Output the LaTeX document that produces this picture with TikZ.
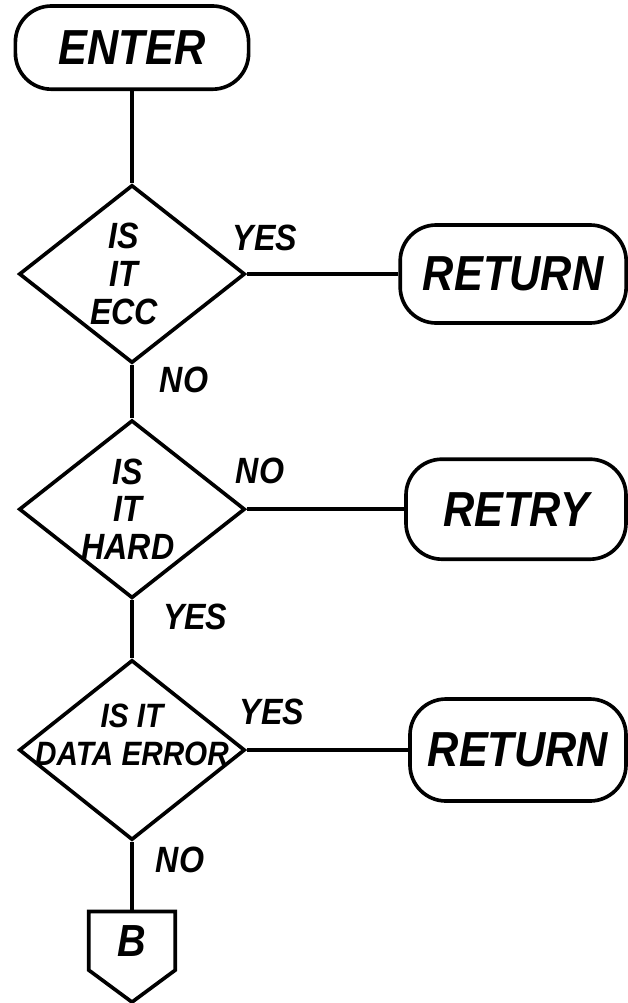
\documentclass[tikz,border=0pt]{standalone}
\usepackage{fontspec}
\setmainfont{Liberation Sans}[FakeStretch=0.88]
\usetikzlibrary{shapes.geometric}

\begin{document}
\begin{tikzpicture}[
    terminal/.style={rectangle, draw, line width=2.6pt, rounded corners=0.9cm, minimum width=5.65cm, minimum height=2.45cm, font=\fontsize{35}{38}\selectfont\bfseries\itshape},
    decision/.style={diamond, draw, line width=2.6pt, minimum width=5.65cm, minimum height=4.45cm, inner sep=0pt},
    dtext/.style={font=\fontsize{26}{27}\selectfont\bfseries\itshape, align=center, inner sep=0pt},
    flow/.style={line width=2.6pt},
    lbl/.style={font=\fontsize{26}{28}\selectfont\bfseries\itshape},
    offpage/.style={rectangle, minimum width=2.15cm, minimum height=1.45cm, inner sep=0pt, font=\fontsize{32}{34}\selectfont\bfseries\itshape}
]
    \useasboundingbox (0,0) rectangle (15.7,-25.075);

    % Start
    \node[terminal, minimum width=5.83cm, minimum height=2.08cm] (enter) at (3.3,-1.19) {ENTER};

    % Decisions
    \node[decision] (d1) at (3.3,-6.85) {};
    \node[dtext] (q1) at ([xshift=-0.2cm]d1.center) {IS\\IT\\ECC};
    \node[decision] (d2) at (3.3,-12.73) {};
    \node[dtext] (q2) at ([xshift=-0.1cm]d2.center) {IS\\IT\\HARD};
    \node[decision, minimum height=4.5cm] (d3) at (3.3,-18.75) {};
    \node[dtext, font=\fontsize{24}{27}\selectfont\bfseries\itshape] (q3) at ([yshift=0.38cm]d3.center) {IS IT\\DATA ERROR};

    % Exits
    \node[terminal] (ret1) at (12.83,-6.85) {RETURN};
    \node[terminal, minimum width=5.5cm, minimum height=2.5cm] (retry) at (12.9,-12.73) {RETRY};
    \node[terminal, minimum width=5.4cm, minimum height=2.55cm] (ret3) at (12.95,-18.75) {RETURN};

    % Off-page connector
    \node[offpage] (b) at (3.3,-23.52) {B};
    \draw[flow] (b.south west) -- (b.north west) -- (b.north east) -- (b.south east)
        -- ([yshift=-0.8cm]b.south) -- cycle;

    % Flow lines
    \draw[flow] (enter) -- (d1);
    \draw[flow] (d1) -- (ret1);
    \draw[flow] (d1) -- (d2);
    \draw[flow] (d2) -- (retry);
    \draw[flow] (d2) -- (d3);
    \draw[flow] (d3) -- (ret3);
    \draw[flow] (d3) -- (b);

    % Branch labels
    \node[lbl] (yes1) at ([shift={(0.45,0.9)}]d1.east) {YES};
    \node[lbl] (no1) at ([shift={(1.3,-0.38)}]d1.south) {NO};
    \node[lbl] (no2) at ([shift={(0.33,0.95)}]d2.east) {NO};
    \node[lbl] (yes2) at ([shift={(1.58,-0.43)}]d2.south) {YES};
    \node[lbl] (yes3) at ([shift={(0.63,0.95)}]d3.east) {YES};
    \node[lbl] (no3) at ([shift={(1.2,-0.45)}]d3.south) {NO};

\end{tikzpicture}
\end{document}
